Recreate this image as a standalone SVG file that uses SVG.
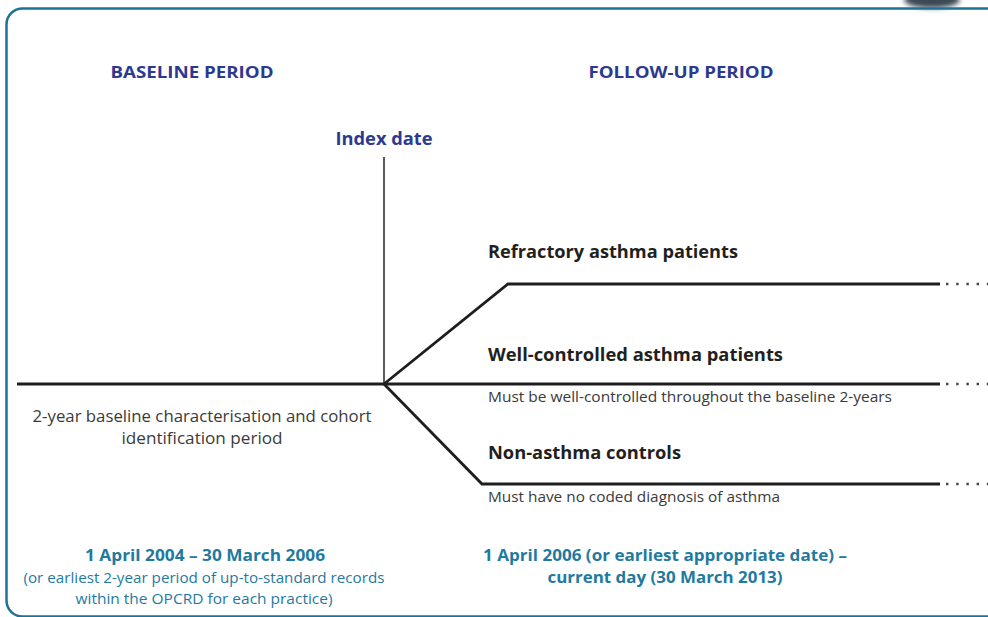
<svg xmlns="http://www.w3.org/2000/svg" width="988" height="617" viewBox="0 0 988 617">
  <defs>
    <filter id="soft" x="-50%" y="-50%" width="200%" height="200%">
      <feGaussianBlur stdDeviation="2.5"/>
    </filter>
    <style>
      .frame { fill: none; stroke: #1d7397; stroke-width: 2.5; }
      .head { font-family: "Open Sans", "Liberation Sans", sans-serif; font-weight: 700; fill: #2b3a8f; }
      .label { font-family: "Open Sans", "Liberation Sans", sans-serif; font-weight: 700; fill: #231f20; }
      .note { font-family: "Open Sans", "Liberation Sans", sans-serif; fill: #3a3a3a; }
      .date { font-family: "Open Sans", "Liberation Sans", sans-serif; font-weight: 700; fill: #1f7aa0; }
      .datenote { font-family: "Open Sans", "Liberation Sans", sans-serif; fill: #1f7aa0; }
      .track { fill: none; stroke: #1e1e1e; stroke-width: 2.8; stroke-linejoin: miter; }
      .tick { fill: none; stroke: #333; stroke-width: 1.6; }
      .dots { fill: none; stroke: #444; stroke-width: 2.4; stroke-dasharray: 2.4 7.8; }
    </style>
  </defs>

  <rect width="988" height="617" fill="#ffffff"/>

  <!-- dark badge peeking in at the top right -->
  <ellipse cx="932" cy="0" rx="28" ry="8" fill="#3b4a55" filter="url(#soft)"/>

  <!-- outer rounded frame -->
  <rect class="frame" x="6.5" y="8.5" width="996" height="608" rx="16" ry="16"/>

  <!-- period headings -->
  <g id="baseline-heading">
    <text class="head" x="192" y="78" font-size="16" text-anchor="middle" textLength="163" lengthAdjust="spacingAndGlyphs">BASELINE PERIOD</text>
  </g>
  <g id="followup-heading">
    <text class="head" x="681" y="78" font-size="16" text-anchor="middle" textLength="185" lengthAdjust="spacingAndGlyphs">FOLLOW-UP PERIOD</text>
  </g>

  <!-- index date marker -->
  <g id="index-date">
    <text class="head" x="384" y="145" font-size="17.5" text-anchor="middle" textLength="97" lengthAdjust="spacingAndGlyphs">Index date</text>
  </g>

  <!-- timeline tracks -->
  <g id="connectors">
    <line class="tick" x1="384" y1="157" x2="384" y2="384"/>
    <line class="track" x1="17" y1="384" x2="940" y2="384"/>
    <polyline class="track" points="384,384 508,284 940,284"/>
    <polyline class="track" points="384,384 482,484 940,484"/>
    <line class="dots" x1="946" y1="284" x2="990" y2="284"/>
    <line class="dots" x1="946" y1="384" x2="990" y2="384"/>
    <line class="dots" x1="946" y1="484" x2="990" y2="484"/>
  </g>

  <!-- cohorts -->
  <g id="refractory">
    <text class="label" x="488" y="258" font-size="18" textLength="250" lengthAdjust="spacingAndGlyphs">Refractory asthma patients</text>
  </g>
  <g id="well-controlled">
    <text class="label" x="488" y="361" font-size="18" textLength="295" lengthAdjust="spacingAndGlyphs">Well-controlled asthma patients</text>
    <text class="note" x="488" y="402" font-size="14.5" textLength="404" lengthAdjust="spacingAndGlyphs">Must be well-controlled throughout the baseline 2-years</text>
  </g>
  <g id="non-asthma">
    <text class="label" x="488" y="459" font-size="18" textLength="193" lengthAdjust="spacingAndGlyphs">Non-asthma controls</text>
    <text class="note" x="488" y="502" font-size="14.5" textLength="292" lengthAdjust="spacingAndGlyphs">Must have no coded diagnosis of asthma</text>
  </g>

  <!-- baseline description -->
  <g id="baseline-description">
    <text class="note" x="202" y="422" font-size="16" text-anchor="middle" textLength="339" lengthAdjust="spacingAndGlyphs">2-year baseline characterisation and cohort</text>
    <text class="note" x="202" y="444" font-size="16" text-anchor="middle" textLength="161" lengthAdjust="spacingAndGlyphs">identification period</text>
  </g>

  <!-- date ranges -->
  <g id="baseline-dates">
    <text class="date" x="205" y="561" font-size="16.5" text-anchor="middle" textLength="240" lengthAdjust="spacingAndGlyphs">1 April 2004 – 30 March 2006</text>
    <text class="datenote" x="204" y="583" font-size="14.5" text-anchor="middle" textLength="361" lengthAdjust="spacingAndGlyphs">(or earliest 2-year period of up-to-standard records</text>
    <text class="datenote" x="204" y="604" font-size="14.5" text-anchor="middle" textLength="257" lengthAdjust="spacingAndGlyphs">within the OPCRD for each practice)</text>
  </g>
  <g id="followup-dates">
    <text class="date" x="665" y="561" font-size="16.5" text-anchor="middle" textLength="364" lengthAdjust="spacingAndGlyphs">1 April 2006 (or earliest appropriate date) –</text>
    <text class="date" x="665" y="583" font-size="16.5" text-anchor="middle" textLength="235" lengthAdjust="spacingAndGlyphs">current day (30 March 2013)</text>
  </g>
</svg>
